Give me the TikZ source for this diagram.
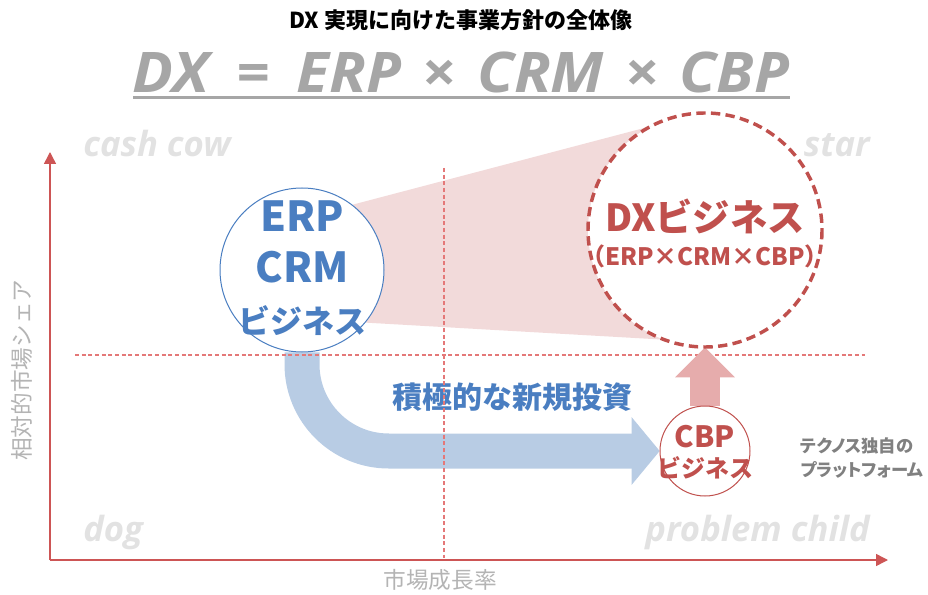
\documentclass[tikz,border=0pt]{standalone}
\usepackage{fontspec}
\usepackage{tikz}
\usetikzlibrary{arrows.meta}
\newfontfamily\jpfont{Noto Sans CJK JP}
\newfontfamily\jpprop{Noto Sans CJK JP}[RawFeature=+palt]
\newfontfamily\latfont{Open Sans}

\definecolor{erpblue}{RGB}{74,126,193}
\definecolor{bandblue}{RGB}{184,204,228}
\definecolor{dxred}{RGB}{192,80,77}
\definecolor{axisred}{RGB}{205,85,85}
\definecolor{guidered}{RGB}{228,120,120}
\definecolor{fanpink}{RGB}{242,218,218}
\definecolor{uppink}{RGB}{230,172,172}
\definecolor{formulagray}{RGB}{166,166,166}
\definecolor{quadgray}{RGB}{226,226,226}
\definecolor{axislabelgray}{RGB}{180,180,180}
\definecolor{notegray}{RGB}{128,128,128}

\tikzset{
  quadlabel/.style={font=\latfont\bfseries\itshape\fontsize{26}{26}\selectfont, text=quadgray, inner sep=0pt},
  axislabel/.style={font=\jpfont\fontsize{17}{17}\selectfont, text=axislabelgray},
  axisline/.style={axisred, line width=1.1pt, -{Triangle[length=9pt,width=9pt]}},
  guide/.style={guidered, line width=0.9pt, dash pattern=on 3pt off 2pt},
  bluetext/.style={font=\jpfont\bfseries\fontsize{24}{38}\selectfont, text=erpblue, align=center},
  redtext/.style={text=dxred, align=center},
}

\begin{document}
\begin{tikzpicture}[x=0.75pt, y=-0.75pt]
\useasboundingbox (0,0) rectangle (928,595);

% title and formula
\node (title) at (461,20) {\jpfont\bfseries\fontsize{16.5}{16.5}\selectfont DX 実現に向けた事業方針の全体像};
\node[inner sep=0pt, text=formulagray, font=\latfont\bfseries\itshape\fontsize{42}{42}\selectfont] (formula) at (461,72)
  {\scalebox{1.08}[1]{DX\hspace{0.45em}=\hspace{0.45em}ERP\hspace{0.35em}×\hspace{0.35em}CRM\hspace{0.35em}×\hspace{0.35em}CBP}};
\draw[formulagray, line width=2.25pt] (133,98) -- (790,98);

% pink fan behind the circles
\fill[fanpink] (302,218) -- (705,112) -- (705,342) -- (302,319) -- cycle;

% axes
\coordinate (origin) at (50,560);
\coordinate (ytop) at (50,152);
\coordinate (xend) at (888,560);
\draw[axisline] (origin) -- (ytop);
\draw[axisline] (origin) -- (xend);
\node[axislabel, rotate=90] (ylabel) at (22,370) {相対的市場シェア};
\node[axislabel] (xlabel) at (440,580) {市場成長率};

% quadrant names
\node[quadlabel, anchor=base west] (cashcow) at (83,157) {cash cow};
\node[quadlabel, anchor=base east] (star) at (870,157) {star};
\node[quadlabel, anchor=base west] (dog) at (83,541) {dog};
\node[quadlabel, anchor=base east] (problem) at (870,541) {problem child};

% circles
\node[circle, fill=white, minimum size=123pt, inner sep=0pt] (erp) at (302,270) {};
\node[circle, fill=white, minimum size=175.5pt, inner sep=0pt] (dx) at (705,230) {};
\node[circle, fill=white, minimum size=67.5pt, inner sep=0pt] (cbp) at (705,451) {};

% investment arrow
\draw[bandblue, line width=26.25pt, rounded corners=65pt, -{Triangle[length=21pt,width=49.5pt]}] (erp.south) |- (cbp.west);
\node[bluetext, font=\jpfont\bfseries\fontsize{22.5}{22.5}\selectfont] (invest) at (512,397) {積極的な新規投資};

% quadrant guides
\draw[guide] (75,355) -- (865,355);
\draw[guide] (444,168) -- (444,558);

% up arrow
\draw[uppink, line width=23pt, -{Triangle[length=22.5pt,width=43.5pt]}] (cbp.north) -- (dx.south);

% circle outlines and texts
\draw[erpblue, line width=0.75pt] (erp) circle[radius=82];
\draw[dxred, line width=2.6pt, dash pattern=on 7pt off 4pt] (dx) circle[radius=117];
\draw[dxred, line width=0.75pt] (cbp) circle[radius=45];
\node[bluetext] (erptext) at (302,268) {{\fontsize{31}{38}\selectfont ERP}\\{\fontsize{31}{38}\selectfont CRM}\\ビジネス};
\node[redtext, font=\jpfont\bfseries\fontsize{28}{28}\selectfont] (dxtext) at (705,216) {DXビジネス};
\node[redtext, font=\jpfont\bfseries\fontsize{18}{18}\selectfont] (dxsub) at (705,256) {（ERP×CRM×CBP）};
\node[redtext, font=\jpfont\bfseries\fontsize{18}{22}\selectfont] (cbptext) at (705,452) {{\fontsize{22}{22}\selectfont CBP}\\ビジネス};
\node[align=left, anchor=west, text=notegray, font=\jpprop\bfseries\fontsize{13}{17.5}\selectfont] (note) at (796,458) {テクノス独自の\\プラットフォーム};
\end{tikzpicture}
\end{document}
